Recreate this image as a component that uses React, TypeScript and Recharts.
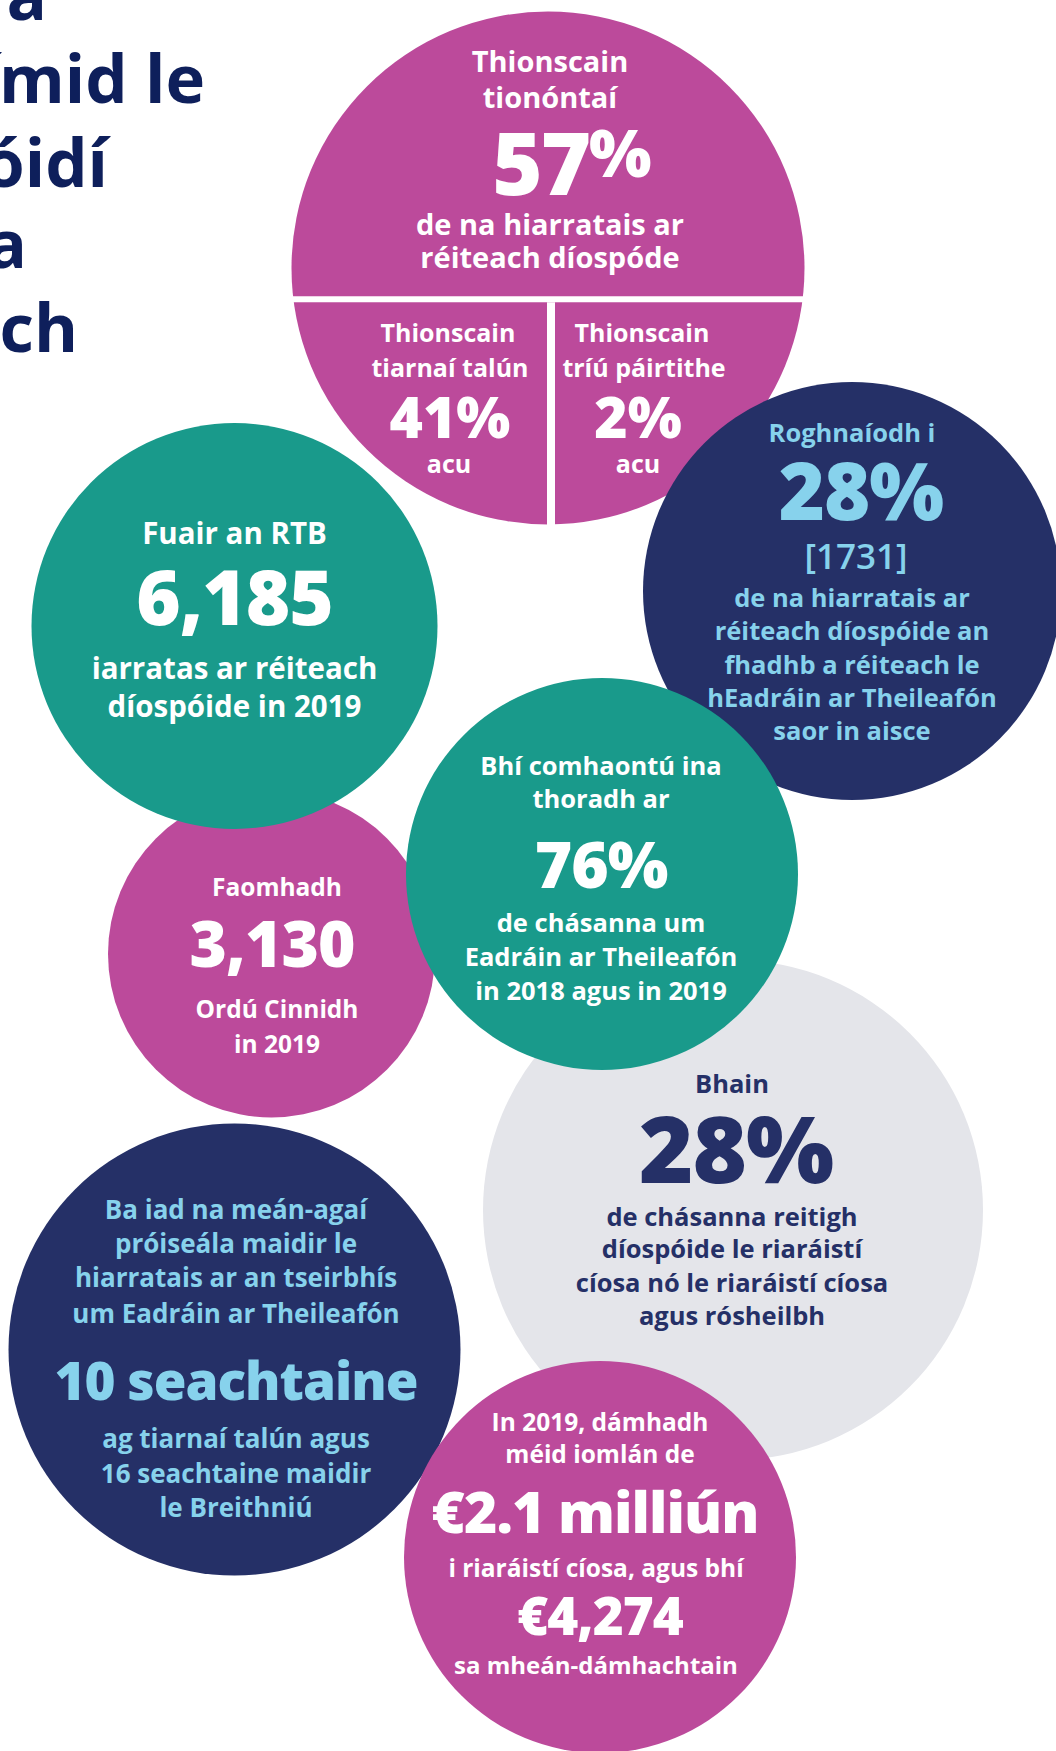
import React from 'react';
import { ScatterChart, Scatter, XAxis, YAxis } from 'recharts';

// ---------------- data ----------------
const CHART_W = 1056;
const CHART_H = 1751;

// bubbles, in drawing order (later ones sit on top)
const bubbleIds = ['tionscain', 'roghnaiodh', 'faomhadh', 'fuair', 'bhain', 'comhaontu', 'seachtaine', 'damhadh'];
const bubbleX = [548, 852, 271.5, 234.5, 733, 602, 234.5, 600];
const bubbleY = [268, 591, 954, 626, 1210, 874, 1349.5, 1557];
const bubbleR = [256.5, 209, 163.5, 203, 250, 196, 226, 196];

const bubbleText: string[][] = [
  ['Thionscain', 'tionóntaí', 'de na hiarratais ar', 'réiteach díospóde'],
  ['Roghnaíodh i', '28%', '[1731]', 'de na hiarratais ar', 'réiteach díospóide an', 'fhadhb a réiteach le', 'hEadráin ar Theileafón', 'saor in aisce'],
  ['Faomhadh', '3,130', 'Ordú Cinnidh', 'in 2019'],
  ['Fuair an RTB', '6,185', 'iarratas ar réiteach', 'díospóide in 2019'],
  ['Bhain', '28%', 'de chásanna reitigh', 'díospóide le riaráistí', 'cíosa nó le riaráistí cíosa', 'agus rósheilbh'],
  ['Bhí comhaontú ina', 'thoradh ar', '76%', 'de chásanna um', 'Eadráin ar Theileafón', 'in 2018 agus in 2019'],
  ['Ba iad na meán-agaí', 'próiseála maidir le', 'hiarratais ar an tseirbhís', 'um Eadráin ar Theileafón', '10 seachtaine', 'ag tiarnaí talún agus', '16 seachtaine maidir', 'le Breithniú'],
  ['In 2019, dámhadh', 'méid iomlán de', '€2.1 milliún', 'i riaráistí cíosa, agus bhí', '€4,274', 'sa mheán-dámhachtain'],
];

// share of dispute applications by who initiated them
const pieShares = [57, 41, 2];
const pieSliceLabels: string[][] = [['Thionscain', 'tiarnaí talún'], ['Thionscain', 'tríú páirtithe']];
const pieSliceNote = 'acu';

// heading (runs off the left edge of the page)
const titleLines = ['Seo conas a', 'gcabhraímid le', 'díospóidí', 'a', 'réiteach'];
const titleRight = [47, 205, 108, 27, 78];
const titleBaseline = [20, 103, 187, 268, 352];

// ---------------- styles ----------------
const FONT = '"Open Sans", "Noto Sans", sans-serif';
const MAGENTA = '#bc4a9b';
const TEAL = '#199a8b';
const NAVY = '#253067';
const LIGHT = '#87d2ec';
const GREY = '#e4e5ea';
const WHITE = '#ffffff';
const TITLE = '#0e1f5b';

type Line = { dy: number; size: number; w: number; dx: number };
const B = 700; // body weight
const L = (dy: number, size: number, w = B, dx = 0): Line => ({ dy, size, w, dx });

const bubbleStyle: Record<string, { fill: string; color: string; dx: number; lines: Line[] }> = {
  tionscain: { fill: MAGENTA, color: WHITE, dx: 2, lines: [L(-196, 29), L(-160, 29), L(-33, 29), L(0, 29)] },
  roghnaiodh: {
    fill: NAVY, color: LIGHT, dx: 0,
    lines: [L(-149, 25.5), L(-71, 79, 800, 9), L(-22, 35, 600, 4), L(16, 25.5), L(49, 25.5), L(83, 25.5), L(116, 25.5), L(149, 25.5)],
  },
  faomhadh: { fill: MAGENTA, color: WHITE, dx: 5.5, lines: [L(-58, 24.5), L(13, 64, 800, -5), L(64, 24.5), L(99, 24.5)] },
  fuair: { fill: TEAL, color: WHITE, dx: 0, lines: [L(-82, 29.5), L(-1, 76, 800), L(53, 29.5), L(91, 29.5)] },
  bhain: {
    fill: GREY, color: NAVY, dx: -1,
    lines: [L(-117, 25.5), L(-27, 93, 800, 4), L(16, 25.5), L(48, 25.5), L(82, 25.5), L(115, 25.5)],
  },
  comhaontu: {
    fill: TEAL, color: WHITE, dx: -1,
    lines: [L(-99, 25.5), L(-66, 25.5), L(14, 64, 800), L(58, 25.5), L(92, 25.5), L(126, 25.5)],
  },
  seachtaine: {
    fill: NAVY, color: LIGHT, dx: 1.5,
    lines: [L(-130.5, 26), L(-96.5, 26), L(-62.5, 26), L(-26.5, 26), L(50.5, 53, 800), L(98.5, 26), L(133.5, 26), L(167.5, 26)],
  },
  damhadh: {
    fill: MAGENTA, color: WHITE, dx: -4,
    lines: [L(-126, 24.5, B, 4), L(-94, 24.5, B, 4), L(-24, 57, 800, -1), L(20, 24.5), L(78, 53, 800, 4), L(117, 24)],
  },
};

// ---------------- helpers ----------------
// fraction of a unit disc lying below a horizontal chord at distance h (in radii) below the centre
const capBelow = (h: number) => (Math.acos(h) - h * Math.sqrt(1 - h * h)) / Math.PI;
const splitForTopShare = (share: number) => {
  let lo = -1, hi = 1;
  for (let i = 0; i < 60; i++) {
    const mid = (lo + hi) / 2;
    if (capBelow(mid) > 1 - share) lo = mid; else hi = mid;
  }
  return (lo + hi) / 2;
};

const bubbles = bubbleIds.map((id, i) => ({ id, x: bubbleX[i], y: bubbleY[i], r: bubbleR[i], text: bubbleText[i] }));
const titleRows = titleLines.map((t, i) => ({ t, x: titleRight[i], y: titleBaseline[i] }));

const unit = CHART_W / CHART_W; // 1 data unit = 1 px (domain matches chart size)

const renderPie = (cx: number, cy: number, r: number, texts: string[]) => {
  const st = bubbleStyle.tionscain;
  const top = pieShares[0] / 100;
  const split = cy + splitForTopShare(top) * r;
  const gap = 6;
  const vx = cx + 3;
  const sideDx = [-100, 94];
  return (
    <g>
      <circle cx={cx} cy={cy} r={r} fill={st.fill} />
      <rect x={cx - r - 2} y={split} width={2 * r + 4} height={gap} fill={WHITE} />
      <rect x={vx - 4} y={split + gap} width={8} height={r + 10} fill={WHITE} />
      {st.lines.map((ln, i) => (
        <text key={i} x={cx + st.dx + ln.dx} y={cy + ln.dy} textAnchor="middle" fontFamily={FONT} fontSize={ln.size} fontWeight={ln.w} fill={st.color}>
          {texts[i]}
        </text>
      ))}
      <text x={cx + 24} y={cy - 73} textAnchor="middle" fontFamily={FONT} fontWeight={800} fill={WHITE}>
        <tspan fontSize={86} letterSpacing={-2}>{pieShares[0]}</tspan>
        <tspan fontSize={66} dy={-18}>%</tspan>
      </text>
      {pieSliceLabels.map((lab, k) => {
        const x = cx + sideDx[k];
        return (
          <g key={k}>
            <text x={x} y={cy + 74} textAnchor="middle" fontFamily={FONT} fontSize={25} fontWeight={B} fill={WHITE}>{lab[0]}</text>
            <text x={x + 2} y={cy + 109} textAnchor="middle" fontFamily={FONT} fontSize={25} fontWeight={B} fill={WHITE}>{lab[1]}</text>
            <text x={x + (k === 0 ? 2 : -4)} y={cy + 170} textAnchor="middle" fontFamily={FONT} fontSize={57} fontWeight={800} fill={WHITE}>{`${pieShares[k + 1]}%`}</text>
            <text x={x + (k === 0 ? 1 : -4)} y={cy + 205} textAnchor="middle" fontFamily={FONT} fontSize={25} fontWeight={B} fill={WHITE}>{pieSliceNote}</text>
          </g>
        );
      })}
    </g>
  );
};

const renderBubble = (props: any) => {
  const { cx, cy, payload } = props;
  if (cx == null || cy == null || !payload) return <g />;
  const r = payload.r * unit;
  if (payload.id === 'tionscain') return renderPie(cx, cy, r, payload.text);
  const st = bubbleStyle[payload.id];
  return (
    <g>
      <circle cx={cx} cy={cy} r={r} fill={st.fill} />
      {st.lines.map((ln, i) => (
        <text key={i} x={cx + st.dx + ln.dx} y={cy + ln.dy} textAnchor="middle" fontFamily={FONT} fontSize={ln.size} fontWeight={ln.w} fill={st.color} letterSpacing={ln.w >= 800 ? -1 : 0}>
          {payload.text[i]}
        </text>
      ))}
    </g>
  );
};

const renderTitle = (props: any) => {
  const { cx, cy, payload } = props;
  if (cx == null || cy == null || !payload) return <g />;
  return (
    <text x={cx} y={cy} textAnchor="end" fontFamily={FONT} fontSize={67} fontWeight={700} fill={TITLE}>
      {payload.t}
    </text>
  );
};

export default function App() {
  return (
    <div style={{ position: 'absolute', left: 0, top: 0, width: CHART_W, height: CHART_H, background: '#fff' }}>
      <ScatterChart width={CHART_W} height={CHART_H} margin={{ top: 0, right: 0, bottom: 0, left: 0 }}>
        <XAxis type="number" dataKey="x" domain={[0, CHART_W]} hide allowDataOverflow />
        <YAxis type="number" dataKey="y" domain={[0, CHART_H]} reversed hide allowDataOverflow />
        <Scatter data={titleRows} shape={renderTitle} isAnimationActive={false} />
        <Scatter data={bubbles} shape={renderBubble} isAnimationActive={false} />
      </ScatterChart>
    </div>
  );
}
